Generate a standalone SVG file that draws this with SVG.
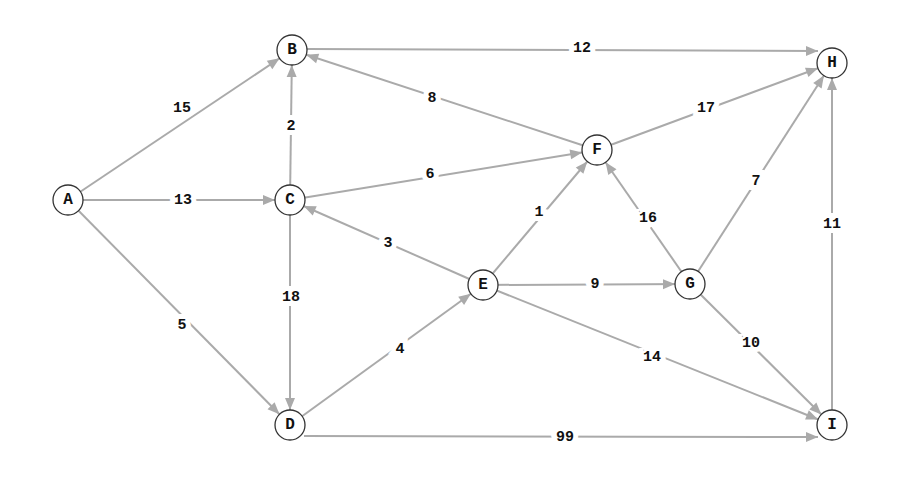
<svg xmlns="http://www.w3.org/2000/svg" width="898" height="490" viewBox="0 0 898 490">
<style>
.e line{stroke:#aaaaaa;stroke-width:2;marker-end:url(#ah)}
.e line.d{marker-end:url(#ah0)}
.n circle{fill:#fff;stroke:#333;stroke-width:1.3}
.n text{font-family:"Liberation Mono",monospace;font-weight:bold;font-size:16px;text-anchor:middle;dominant-baseline:central;fill:#111}
.l{font-family:"Liberation Mono",monospace;font-weight:bold;font-size:15px;text-anchor:middle;dominant-baseline:central;fill:#111;stroke:#fff;stroke-width:10;paint-order:stroke}
</style>
<defs>
<marker id="ah" markerUnits="userSpaceOnUse" markerWidth="40" markerHeight="20" refX="0" refY="0" orient="auto" overflow="visible" viewBox="-30 -10 40 20">
<path d="M-27,-5 L-15,0 L-27,5 z" fill="#aaaaaa"/>
</marker>
<marker id="ah0" markerUnits="userSpaceOnUse" markerWidth="40" markerHeight="20" refX="0" refY="0" orient="auto" overflow="visible" viewBox="-30 -10 40 20">
<path d="M-12,-5 L0,0 L-12,5 z" fill="#aaaaaa"/>
</marker>
</defs>
<rect width="898" height="490" fill="#fff"/>
<g id="edges" class="e">
<line x1="68" y1="200" x2="292" y2="50"/>
<line x1="68" y1="200" x2="290" y2="200"/>
<line x1="68" y1="200" x2="290" y2="425"/>
<line x1="290" y1="200" x2="292" y2="50"/>
<line x1="290" y1="200" x2="597" y2="150"/>
<line x1="290" y1="200" x2="290" y2="425"/>
<line class="d" x1="307" y1="49" x2="818" y2="51"/>
<line x1="597" y1="150" x2="292" y2="50"/>
<line x1="597" y1="150" x2="832" y2="63"/>
<line x1="483" y1="285" x2="290" y2="200"/>
<line x1="483" y1="285" x2="597" y2="150"/>
<line x1="483" y1="285" x2="690" y2="284"/>
<line x1="483" y1="285" x2="832" y2="425"/>
<line x1="290" y1="425" x2="483" y2="285"/>
<line x1="690" y1="284" x2="597" y2="150"/>
<line x1="690" y1="284" x2="832" y2="63"/>
<line x1="690" y1="284" x2="832" y2="425"/>
<line x1="832" y1="425" x2="832" y2="63"/>
<line class="d" x1="304" y1="436" x2="818" y2="437"/>
</g>
<g id="labels">
<text class="l" x="182" y="108">15</text>
<text class="l" x="183" y="200">13</text>
<text class="l" x="182" y="325">5</text>
<text class="l" x="291" y="126">2</text>
<text class="l" x="430" y="174">6</text>
<text class="l" x="291" y="297">18</text>
<text class="l" x="582" y="48">12</text>
<text class="l" x="432" y="98">8</text>
<text class="l" x="706" y="108">17</text>
<text class="l" x="388" y="243">3</text>
<text class="l" x="539" y="212">1</text>
<text class="l" x="595" y="284">9</text>
<text class="l" x="652" y="357">14</text>
<text class="l" x="400" y="349">4</text>
<text class="l" x="648" y="218">16</text>
<text class="l" x="756" y="181">7</text>
<text class="l" x="751" y="343">10</text>
<text class="l" x="832" y="224">11</text>
<text class="l" x="565" y="437">99</text>
</g>
<g id="A" class="n"><circle cx="68" cy="200" r="15"/><text x="68" y="200">A</text></g>
<g id="B" class="n"><circle cx="292" cy="50" r="15"/><text x="292" y="50">B</text></g>
<g id="C" class="n"><circle cx="290" cy="200" r="15"/><text x="290" y="200">C</text></g>
<g id="D" class="n"><circle cx="290" cy="425" r="15"/><text x="290" y="425">D</text></g>
<g id="E" class="n"><circle cx="483" cy="285" r="15"/><text x="483" y="285">E</text></g>
<g id="F" class="n"><circle cx="597" cy="150" r="15"/><text x="597" y="150">F</text></g>
<g id="G" class="n"><circle cx="690" cy="284" r="15"/><text x="690" y="284">G</text></g>
<g id="H" class="n"><circle cx="832" cy="63" r="15"/><text x="832" y="63">H</text></g>
<g id="I" class="n"><circle cx="832" cy="425" r="15"/><text x="832" y="425">I</text></g>
</svg>
